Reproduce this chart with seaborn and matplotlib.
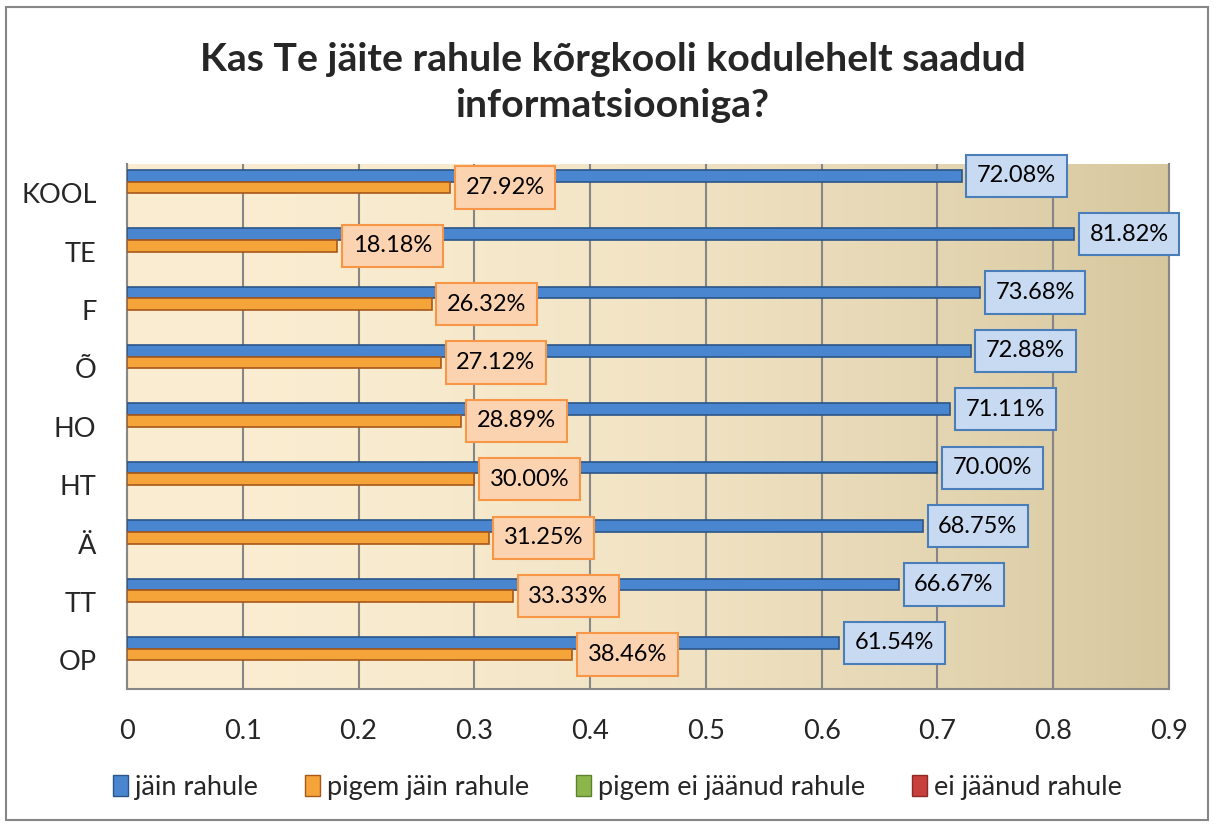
import numpy as np
import pandas as pd
import matplotlib.pyplot as plt
import seaborn as sns
from matplotlib.patches import Rectangle
from matplotlib.ticker import FuncFormatter, MultipleLocator

# data
koolid = ['KOOL', 'TE', 'F', 'Õ', 'HO', 'HT', 'Ä', 'TT', 'OP']
jain_rahule = [0.7208, 0.8182, 0.7368, 0.7288, 0.7111, 0.7000, 0.6875, 0.6667, 0.6154]
pigem_jain = [0.2792, 0.1818, 0.2632, 0.2712, 0.2889, 0.3000, 0.3125, 0.3333, 0.3846]
pigem_ei = [0, 0, 0, 0, 0, 0, 0, 0, 0]
ei_jaanud = [0, 0, 0, 0, 0, 0, 0, 0, 0]
seeria = ['jäin rahule', 'pigem jäin rahule', 'pigem ei jäänud rahule', 'ei jäänud rahule']

df = pd.DataFrame({
    'kool': koolid * 4,
    'vaartus': jain_rahule + pigem_jain + pigem_ei + ei_jaanud,
    'seeria': [s for s in seeria for _ in koolid],
})

varvid = {'jäin rahule': '#4a86cf', 'pigem jäin rahule': '#f5a43a',
          'pigem ei jäänud rahule': '#8db64a', 'ei jäänud rahule': '#c8403c'}
servad = ['#2b5588', '#a8581a', '#5f8030', '#8c2a28']

sns.set_style('white')
plt.rcParams['font.family'] = ['Lato', 'DejaVu Sans']

fig = plt.figure(figsize=(12.13, 8.26), dpi=100)
ax = fig.add_axes([0.1047, 0.1653, 0.859, 0.6360])

# beige gradient background
t = np.linspace(0, 1, 300)
w = t ** 2.0
light = np.array([250, 237, 209]) / 255
dark = np.array([214, 199, 158]) / 255
grad = light[None, :] * (1 - w[:, None]) + dark[None, :] * w[:, None]
ax.imshow(grad[None, :, :], extent=[0, 0.9, 8.5, -0.5], aspect='auto', zorder=0)

sns.barplot(data=df, x='vaartus', y='kool', hue='seeria', orient='h',
            palette=varvid, saturation=1, width=0.8, dodge=True, ax=ax, zorder=3)

for cont, ec in zip(ax.containers, servad):
    for bar in cont:
        if bar.get_width() > 0:
            bar.set_edgecolor(ec)
            bar.set_linewidth(1.2)
        else:
            bar.set_linewidth(0)

boxes = [dict(boxstyle='square,pad=0.45', fc='#c8daf1', ec='#4a7ebb', lw=1.5),
         dict(boxstyle='square,pad=0.45', fc='#fcd3b0', ec='#f79646', lw=1.5)]
for cont, vals, bb in zip(ax.containers[:2], [jain_rahule, pigem_jain], boxes):
    ax.bar_label(cont, labels=[f'{v * 100:.2f}%' for v in vals], padding=11,
                 fontsize=17, color='black', bbox=bb, zorder=5)

ax.set_xlim(0, 0.9)
ax.set_ylim(8.5, -0.5)
ax.xaxis.set_major_locator(MultipleLocator(0.1))
ax.xaxis.set_major_formatter(FuncFormatter(lambda v, p: '0' if abs(v) < 1e-9 else f'{v:.1f}'))
ax.grid(axis='x', color='#868686', lw=1.5, zorder=1)
ax.set_axisbelow(False)
for g in ax.get_xgridlines():
    g.set_zorder(1)
ax.set_xlabel('')
ax.set_ylabel('')
ax.tick_params(axis='x', length=0, pad=21, labelsize=19.5)
ax.tick_params(axis='y', length=0, pad=22, labelsize=19.5)
for s in ['left', 'bottom', 'right']:
    ax.spines[s].set_color('#868686')
    ax.spines[s].set_linewidth(1.5)
ax.spines['top'].set_visible(False)

ax.get_legend().remove()
handles = [Rectangle((0, 0), 1, 1, fc=varvid[s], ec=e, lw=1) for s, e in zip(seeria, servad)]
fig.legend(handles, seeria, loc='center', bbox_to_anchor=(0.509, 0.047), ncol=4,
           frameon=False, fontsize=19.5, handlelength=0.55, handleheight=0.85,
           handletextpad=0.25, columnspacing=1.75)

fig.text(0.505, 0.9, 'Kas Te jäite rahule kõrgkooli kodulehelt saadud\ninformatsiooniga?',
         ha='center', va='center', fontsize=28.3, fontweight='bold', linespacing=1.4)

fig.patches.append(Rectangle((6 / 1213, 6 / 826), 1202 / 1213, 813 / 826, transform=fig.transFigure,
                             fill=False, ec='#868686', lw=1.5))

fig.savefig('out.png', dpi=100)
